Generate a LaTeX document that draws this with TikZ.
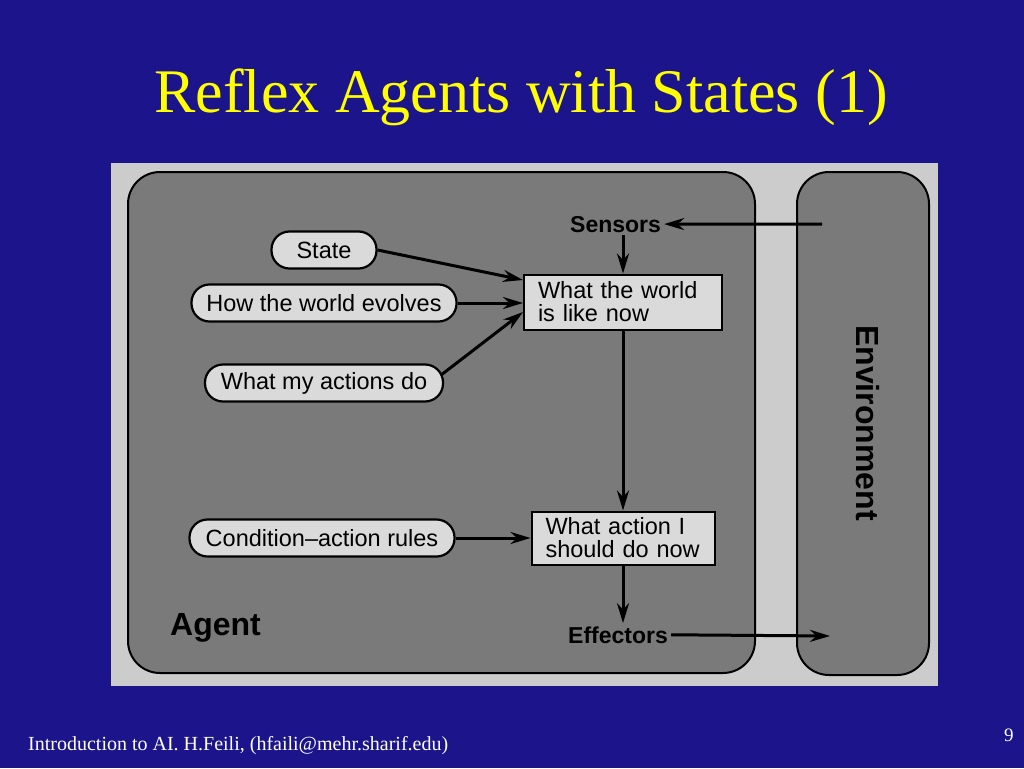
\documentclass[tikz,border=0pt]{standalone}
\usepackage{fontspec}
\setmainfont{Liberation Serif}
\setsansfont{Liberation Sans}
\usetikzlibrary{positioning,calc,arrows.meta}

\definecolor{slideblue}{RGB}{27,20,138}
\definecolor{slideyellow}{RGB}{255,255,0}
\definecolor{panelgray}{RGB}{204,204,204}
\definecolor{boxgray}{RGB}{122,122,122}
\definecolor{nodegray}{RGB}{218,218,218}

\tikzset{
  pill/.style={draw, line width=2.2pt, fill=nodegray, rounded corners=18pt,
    minimum height=37pt, inner xsep=8pt, font=\sffamily\fontsize{23.5}{24}\selectfont},
  statebox/.style={draw, line width=2pt, fill=nodegray, align=left,
    inner xsep=14pt, inner ysep=4pt, font=\sffamily\fontsize{23.5}{23}\selectfont},
  region/.style={draw, line width=2pt, fill=boxgray, rounded corners=32pt},
  lbl/.style={font=\sffamily\bfseries\fontsize{23}{24}\selectfont, inner sep=3pt},
  biglbl/.style={font=\sffamily\bfseries\fontsize{32}{32}\selectfont},
  flow/.style={line width=3pt, -{Stealth[length=20pt,width=12pt]}},
}

\begin{document}
\begin{tikzpicture}[x=1pt,y=-1pt]
  \fill[slideblue] (0,0) rectangle (1024,768);
  \useasboundingbox (0,0) rectangle (1024,768);

  % title and footer
  \node[anchor=base, text=slideyellow, font=\rmfamily\fontsize{62}{62}\selectfont] (title) at (521,112) {Reflex Agents with States (1)};
  \node[anchor=base west, text=white, font=\rmfamily\fontsize{20}{20}\selectfont, inner sep=0pt] (footer) at (28,750) {Introduction to AI. H.Feili, (hfaili@mehr.sharif.edu)};
  \node[anchor=base west, text=white, font=\rmfamily\fontsize{19}{19}\selectfont, inner sep=0pt] (pageno) at (1004,741) {9};

  % figure panel
  \fill[panelgray] (111,163) rectangle (938,686);
  \node[region, minimum width=627pt, minimum height=501pt] (agent) at (441.5,422.5) {};
  \node[region, minimum width=132pt, minimum height=503pt] (env) at (863,423.5) {};
  \node[biglbl, rotate=-90] (envlbl) at (868,423) {Environment};
  \node[biglbl, anchor=base west, inner sep=0pt] (agentlbl) at (170,635) {Agent};

  % knowledge
  \node[pill, minimum width=105pt] (state) at (324,250) {State};
  \node[pill, minimum width=265pt] (evolve) at (324,303) {How the world evolves};
  \node[pill, minimum width=238pt] (actions) at (324,383) {What my actions do};
  \node[pill, minimum width=265pt] (rules) at (322,538) {Condition--action rules};

  \node[statebox, text width=170pt, minimum height=55pt] (world) at (623,302) {What the world\\is like now};
  \node[statebox, text width=155pt, minimum height=53pt] (act) at (623,538) {What action I\\should do now};

  \node[lbl, anchor=base west] (sensors) at (567,232) {Sensors};
  \node[lbl, anchor=base west] (effectors) at (565,643) {Effectors};

  \coordinate (envin) at (822,224);
  \coordinate (envout) at (830,636);

  % connectors
  \draw[flow] (envin) -- (sensors.east);
  \draw[flow] (world.north |- sensors.south) -- (world.north);
  \draw[flow] (state.east) -- ($(world.west)+(0,-22)$);
  \draw[flow] (evolve.east) -- (evolve.east -| world.west);
  \draw[flow] ($(actions.east)+(-3,-8)$) -- ($(world.west)+(0,10)$);
  \draw[flow] (world.south) -- (act.north);
  \draw[flow] (rules.east) -- (rules.east -| act.west);
  \draw[flow] (act.south) -- (act.south |- effectors.north);
  \draw[flow] (effectors.east) -- (envout);
\end{tikzpicture}
\end{document}
